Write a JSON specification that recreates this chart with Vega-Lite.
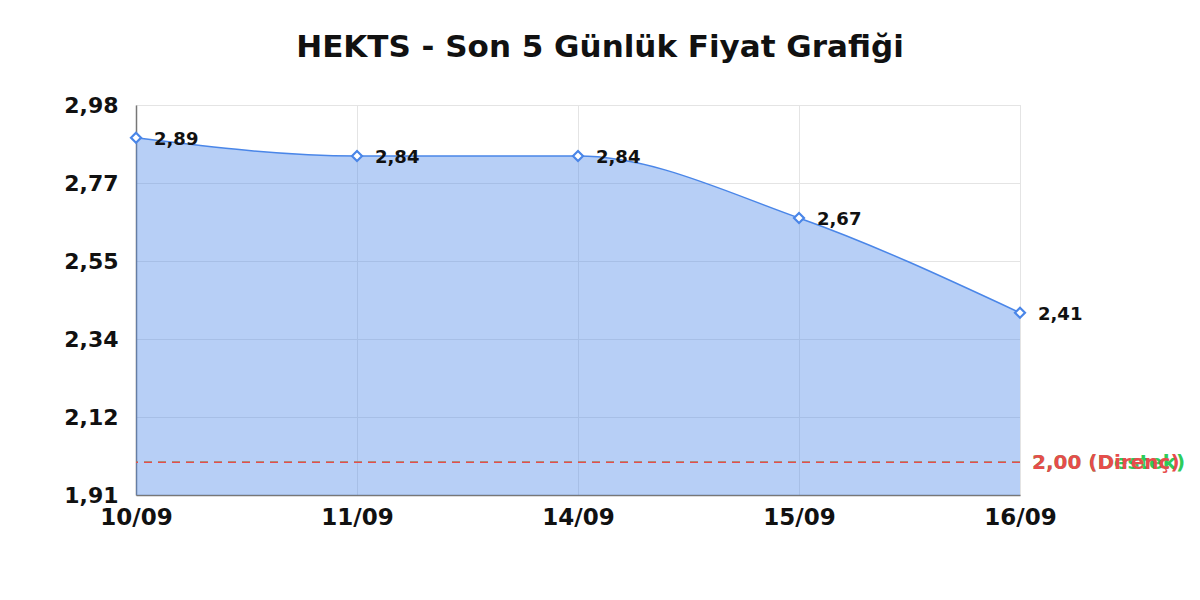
{
  "$schema": "https://vega.github.io/schema/vega-lite/v6.json",
  "autosize": {"type": "none"},
  "width": 884,
  "height": 390,
  "padding": {"left": 136, "top": 105, "right": 180, "bottom": 105},
  "background": "white",
  "title": {
    "text": "HEKTS - Son 5 Günlük Fiyat Grafiği",
    "font": "DejaVu Sans",
    "fontSize": 31,
    "fontWeight": "bold",
    "color": "#111111",
    "anchor": "middle",
    "dx": 22,
    "offset": 30
  },
  "config": {
    "view": {"stroke": "#dddddd", "strokeWidth": 1},
    "axis": {
      "labelFont": "DejaVu Sans",
      "labelFontWeight": "bold",
      "labelColor": "#111111",
      "gridColor": "#e4e4e4",
      "gridWidth": 1,
      "ticks": false,
      "title": null
    }
  },
  "datasets": {
    "prices": [
      {"date": "10/09", "price": 2.89, "label": "2,89"},
      {"date": "11/09", "price": 2.84, "label": "2,84"},
      {"date": "14/09", "price": 2.84, "label": "2,84"},
      {"date": "15/09", "price": 2.67, "label": "2,67"},
      {"date": "16/09", "price": 2.41, "label": "2,41"}
    ],
    "levels": [
      {"kind": "Destek", "level": 2.0, "label": "2,00 (Destek)"},
      {"kind": "Direnç", "level": 2.0, "label": "2,00 (Direnç)"}
    ]
  },
  "encoding": {
    "x": {
      "field": "date",
      "type": "ordinal",
      "sort": null,
      "scale": {"type": "point", "padding": 0, "domain": ["10/09", "11/09", "14/09", "15/09", "16/09"]},
      "axis": {"labelAngle": 0, "labelFontSize": 23, "labelPadding": 11, "grid": true, "domainColor": "#777777", "domainWidth": 1.5}
    }
  },
  "layer": [
    {
      "data": {"name": "prices"},
      "mark": {"type": "area", "interpolate": "monotone", "color": "#4a86e8", "opacity": 0.4, "clip": true},
      "encoding": {
        "y": {
          "field": "price",
          "type": "quantitative",
          "scale": {"domain": [1.91, 2.98], "zero": false, "nice": false},
          "axis": {
            "values": [1.91, 2.124, 2.338, 2.552, 2.766, 2.98],
            "labelExpr": "replace(format(datum.value, '.2f'), '.', ',')",
            "labelFontSize": 22,
            "labelPadding": 18,
            "domainColor": "#777777",
            "domainWidth": 1.5
          }
        }
      }
    },
    {
      "data": {"name": "prices"},
      "mark": {"type": "line", "interpolate": "monotone", "color": "#4a86e8", "strokeWidth": 1.5},
      "encoding": {"y": {"field": "price", "type": "quantitative"}}
    },
    {
      "data": {"name": "levels"},
      "mark": {"type": "rule", "strokeDash": [8, 6], "strokeWidth": 1.5},
      "encoding": {
        "x": null,
        "y": {"field": "level", "type": "quantitative"},
        "color": {"field": "kind", "type": "nominal", "sort": null, "scale": {"domain": ["Destek", "Direnç"], "range": ["#2ecc5a", "#e74c4c"]}, "legend": null}
      }
    },
    {
      "data": {"name": "levels"},
      "mark": {"type": "text", "align": "left", "baseline": "middle", "dx": 12, "dy": 1, "font": "DejaVu Sans", "fontSize": 20, "fontWeight": "bold"},
      "encoding": {
        "x": {"datum": "16/09"},
        "y": {"field": "level", "type": "quantitative"},
        "text": {"field": "label"},
        "color": {"field": "kind", "type": "nominal", "sort": null, "legend": null}
      }
    },
    {
      "data": {"name": "prices"},
      "mark": {"type": "point", "shape": "diamond", "filled": true, "fill": "white", "stroke": "#4a86e8", "strokeWidth": 2.2, "size": 100, "opacity": 1},
      "encoding": {"y": {"field": "price", "type": "quantitative"}}
    },
    {
      "data": {"name": "prices"},
      "mark": {"type": "text", "align": "left", "baseline": "middle", "dx": 18, "dy": 2, "font": "DejaVu Sans", "fontSize": 18, "fontWeight": "bold", "color": "#111111"},
      "encoding": {
        "y": {"field": "price", "type": "quantitative"},
        "text": {"field": "label"}
      }
    }
  ]
}
